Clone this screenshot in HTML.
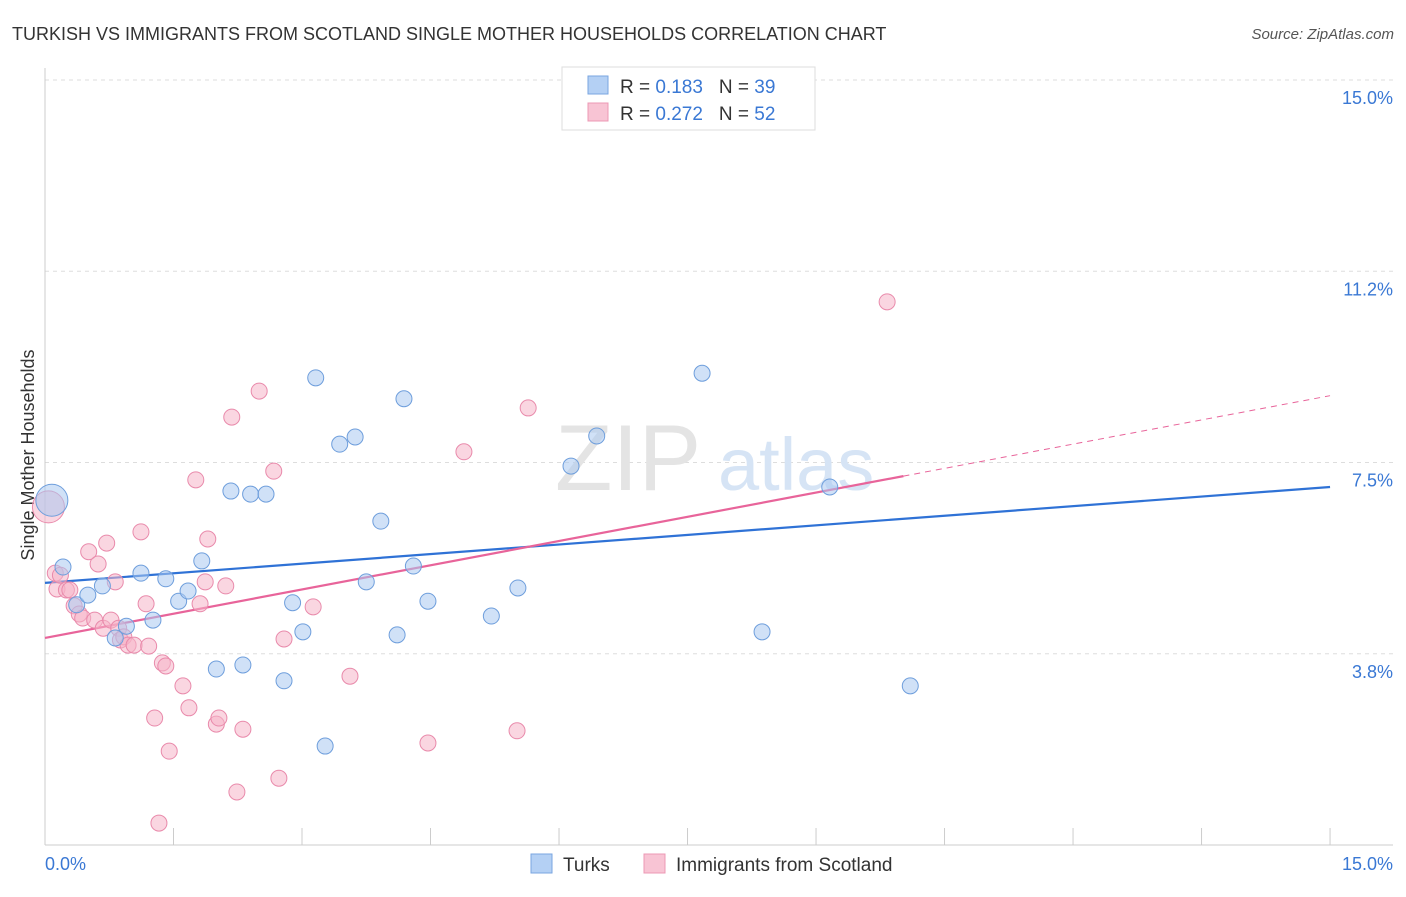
<!DOCTYPE html>
<html><head><meta charset="utf-8"><style>
body{margin:0;background:#fff;font-family:"Liberation Sans",sans-serif;}
svg text{font-family:"Liberation Sans",sans-serif;}
</style></head><body>
<svg id="chart" width="1406" height="892">
<text x="12" y="40" font-size="18" fill="#333">TURKISH VS IMMIGRANTS FROM SCOTLAND SINGLE MOTHER HOUSEHOLDS CORRELATION CHART</text>
<text x="1394" y="39" font-size="15" fill="#555" font-style="italic" text-anchor="end">Source: ZipAtlas.com</text>
<g id="grid"></g>
<g id="wm"><text x="555" y="490" font-size="94" fill="#e4e4e4" font-family="Liberation Serif">ZIP</text><text x="718" y="490" font-size="74" fill="#d6e4f5">atlas</text></g>
<text transform="translate(34,455) rotate(-90)" font-size="18" fill="#333" text-anchor="middle">Single Mother Households</text>
<g id="lines"></g>
<g id="points"></g>
<g>
<rect x="562" y="67" width="253" height="63" fill="#fff" stroke="#ddd"/>
<rect x="588" y="76" width="20" height="18" fill="#b4d0f4" stroke="#7aa6e0"/>
<text x="620" y="93" font-size="19" fill="#333">R = <tspan fill="#3a78d4">0.183</tspan><tspan dx="16">N = </tspan><tspan fill="#3a78d4">39</tspan></text>
<rect x="588" y="103" width="20" height="18" fill="#f8c4d4" stroke="#ec98b4"/>
<text x="620" y="120" font-size="19" fill="#333">R = <tspan fill="#3a78d4">0.272</tspan><tspan dx="16">N = </tspan><tspan fill="#3a78d4">52</tspan></text>
</g>
<g>
<rect x="531" y="854" width="21" height="19" fill="#b4d0f4" stroke="#7aa6e0"/>
<text x="563" y="871" font-size="19" fill="#333">Turks</text>
<rect x="644" y="854" width="21" height="19" fill="#f8c4d4" stroke="#ec98b4"/>
<text x="676" y="871" font-size="19" fill="#333">Immigrants from Scotland</text>
</g>
</svg>
<script>
const blueX=[0.08,0.21,0.37,0.50,0.67,0.82,0.95,1.12,1.26,1.41,1.56,1.67,1.83,2.00,2.17,2.31,2.40,2.58,2.79,2.89,3.01,3.16,3.27,3.44,3.62,3.75,3.92,4.11,4.19,4.30,4.47,5.21,5.52,6.14,6.44,7.67,8.37,9.16,10.10];
const blueY=[6.76,5.45,4.71,4.90,5.08,4.06,4.29,5.33,4.41,5.22,4.78,4.98,5.57,3.45,6.94,3.53,6.88,6.88,3.22,4.75,4.18,9.16,1.94,7.86,8.00,5.16,6.35,4.12,8.75,5.47,4.78,4.49,5.04,7.43,8.02,9.25,4.18,7.02,3.12];
const pinkX=[0.04,0.12,0.14,0.18,0.25,0.29,0.34,0.40,0.44,0.51,0.58,0.62,0.68,0.72,0.77,0.82,0.86,0.88,0.92,0.97,1.04,1.12,1.18,1.21,1.28,1.33,1.37,1.41,1.45,1.61,1.68,1.76,1.81,1.87,1.90,2.00,2.03,2.11,2.18,2.24,2.31,2.50,2.67,2.73,2.79,3.13,3.56,4.47,4.89,5.51,5.64,9.83];
const pinkY=[6.63,5.33,5.02,5.29,5.00,5.00,4.69,4.53,4.45,5.75,4.41,5.51,4.25,5.92,4.41,5.16,4.25,4.02,4.08,3.92,3.92,6.14,4.73,3.90,2.49,0.43,3.57,3.51,1.84,3.12,2.69,7.16,4.73,5.16,6.00,2.37,2.49,5.08,8.39,1.04,2.27,8.90,7.33,1.31,4.04,4.67,3.31,2.00,7.71,2.24,8.57,10.65];
const yTicks=[3.8,7.5,11.2,15.0];
const yTickVals=[3.75,7.5,11.25,15];
const blueTrend=[5.14,7.02];
const pinkTrend=[4.06,8.81];
const pinkSolidEnd=10.02;
const NS='http://www.w3.org/2000/svg';
const sx=v=>45+v*85.67, sy=v=>845-v*51;
function mk(t,a,p){const e=document.createElementNS(NS,t);for(const k in a)e.setAttribute(k,a[k]);p.appendChild(e);return e;}
const grid=document.getElementById('grid');
yTickVals.forEach((v,i)=>{
 const l=mk('line',{x1:45,x2:1393,y1:sy(v),y2:sy(v),stroke:'#ddd','stroke-dasharray':'4,4'},grid);
 
 
 const t=mk('text',{x:1393,y:sy(v)+24,'font-size':18,fill:'#3a78d4','text-anchor':'end'},grid);
 t.textContent=yTicks[i].toFixed(1)+'%';
 
 
});
const ax=mk('line',{x1:45,x2:45,y1:68,y2:845,stroke:'#ccc'},grid);


const bx=mk('line',{x1:45,x2:1393,y1:845,y2:845,stroke:'#ccc'},grid);


for(let i=0;i<=10;i++){const t=mk('line',{x1:sx(i*1.5),x2:sx(i*1.5),y1:828,y2:845,stroke:'#ccc'},grid);
 
 }
[[0,'start',45],[15,'end',1393]].forEach(([v,a,x])=>{const t=mk('text',{x:x,y:870,'font-size':18,fill:'#3a78d4','text-anchor':a},grid);t.textContent=v.toFixed(1)+'%';
 
 });
const pts=document.getElementById('points');
function dots(X,Y,fill,stroke,name){X.forEach((x,i)=>{const big=i===0;const c=mk('circle',{cx:sx(x),cy:sy(Y[i]),r:big?16:8,fill:fill,'fill-opacity':0.55,stroke:stroke,'stroke-width':1},pts);
 
 });}
dots(pinkX,pinkY,'#f5b4c8','#e98aab','scotland-point');
dots(blueX,blueY,'#a9c8f0','#6e9edc','turks-point');
const ln=document.getElementById('lines');
const b=mk('line',{x1:sx(0),y1:sy(blueTrend[0]),x2:sx(15),y2:sy(blueTrend[1]),stroke:'#2f72d6','stroke-width':2.2},ln);


const pAt=x=>pinkTrend[0]+(pinkTrend[1]-pinkTrend[0])*x/15;
const p=mk('line',{x1:sx(0),y1:sy(pinkTrend[0]),x2:sx(pinkSolidEnd),y2:sy(pAt(pinkSolidEnd)),stroke:'#e8649a','stroke-width':2.2},ln);


const pd=mk('line',{x1:sx(pinkSolidEnd),y1:sy(pAt(pinkSolidEnd)),x2:sx(15),y2:sy(pinkTrend[1]),stroke:'#e8649a','stroke-width':1,'stroke-dasharray':'6,5'},ln);


</script>
</body></html>
